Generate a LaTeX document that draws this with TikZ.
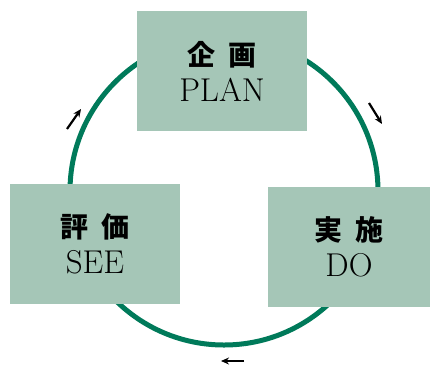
\documentclass[tikz,border=0pt]{standalone}
\usepackage{fontspec}
\newfontfamily\cjk{Noto Sans CJK JP}
\usetikzlibrary{arrows.meta}
\definecolor{boxgreen}{HTML}{A5C6B7}
\definecolor{ringgreen}{HTML}{007A5A}
\newcommand{\jp}[1]{{\cjk\bfseries\fontsize{28}{30}\selectfont #1}}
\newcommand{\en}[1]{{\fontsize{33}{36}\selectfont #1}}
\begin{document}
\begin{tikzpicture}[x=1pt, y=-1pt,
  stage/.style = {fill=boxgreen, minimum width=170pt, minimum height=120pt, align=center, inner sep=0pt},
  flow/.style = {-{Stealth[length=8pt, width=7pt]}, line width=2.2pt, black}]
\useasboundingbox (0,0) rectangle (430,365);
\draw[ringgreen, line width=5pt] (224,191) circle[radius=154];

\node[stage] (plan) at (222,71) {\jp{企\hspace{0.45em}画}\\[9pt]\en{PLAN}};
\node[stage, minimum width=162pt] (do) at (349,247) {\jp{実\hspace{0.45em}施}\\[9pt]\en{DO}};
\node[stage] (see) at (95,243.5) {\jp{評\hspace{0.45em}価}\\[9pt]\en{SEE}};

\coordinate (a1) at (67,129);
\coordinate (b1) at (81,109);
\coordinate (a2) at (369,103);
\coordinate (b2) at (382,124);
\coordinate (a3) at (244,361);
\coordinate (b3) at (221,361);
\draw[flow] (a1) -- (b1);
\draw[flow] (a2) -- (b2);
\draw[flow] (a3) -- (b3);
\end{tikzpicture}
\end{document}
